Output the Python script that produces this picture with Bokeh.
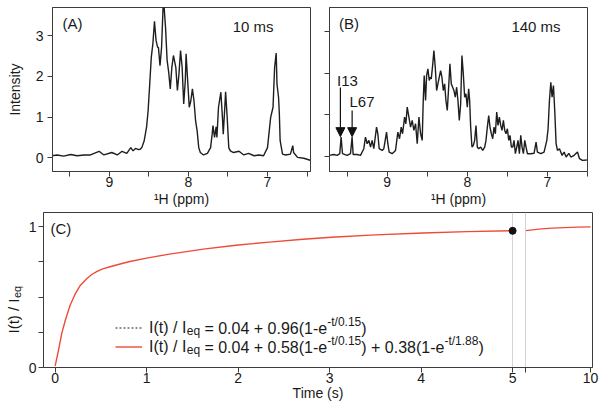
import math
import numpy as np
from bokeh.plotting import figure
from bokeh.layouts import row, column
from bokeh.models import (Range1d, FixedTicker, Label, Arrow, NormalHead, Legend, LegendItem,
                          CustomJSTickFormatter)
from bokeh.embed import file_html
from bokeh.resources import INLINE

# ---------------- data ----------------
# (A) 10 ms spectrum: 1H chemical shift (ppm) and intensity
ppm_a = [9.73, 9.66, 9.58, 9.49, 9.41, 9.32, 9.24, 9.13, 9.07, 8.97, 8.90, 8.84, 8.78, 8.73, 8.70,
         8.67, 8.63, 8.61, 8.59, 8.56, 8.53, 8.51, 8.49, 8.47, 8.45, 8.43, 8.41, 8.39, 8.38, 8.36,
         8.34, 8.32, 8.31, 8.29, 8.27, 8.25, 8.23, 8.21, 8.19, 8.16, 8.14, 8.12, 8.10, 8.08, 8.06,
         8.04, 8.03, 8.01, 7.99, 7.97, 7.95, 7.93, 7.91, 7.89, 7.87, 7.85, 7.81, 7.76, 7.72, 7.70,
         7.69, 7.67, 7.65, 7.64, 7.62, 7.59, 7.57, 7.56, 7.54, 7.53, 7.51, 7.49, 7.47, 7.43, 7.36,
         7.30, 7.24, 7.17, 7.11, 7.05, 7.00, 6.96, 6.93, 6.91, 6.89, 6.88, 6.86, 6.85, 6.84, 6.81,
         6.77, 6.71, 6.68, 6.67, 6.62, 6.54, 6.46]
int_a = [0.05, 0.07, 0.04, 0.08, 0.05, 0.07, 0.07, 0.16, 0.07, 0.13, 0.07, 0.16, 0.11, 0.25, 0.17,
         0.23, 0.20, 0.21, 0.25, 0.42, 0.75, 1.16, 1.81, 2.47, 2.80, 3.35, 2.88, 2.71, 2.71, 2.26,
         2.71, 3.75, 3.75, 3.20, 2.39, 2.10, 1.69, 2.22, 2.51, 2.22, 1.65, 2.06, 2.63, 2.22, 1.32,
         1.89, 2.55, 1.89, 1.24, 1.40, 1.69, 1.40, 0.91, 0.66, 0.25, 0.13, 0.07, 0.11, 0.25, 0.58,
         0.79, 0.50, 0.76, 0.50, 1.24, 1.61, 0.99, 0.58, 1.24, 1.62, 0.99, 0.25, 0.17, 0.13, 0.16,
         0.07, 0.11, 0.05, 0.07, 0.05, 0.25, 0.99, 1.24, 2.22, 2.57, 1.81, 1.48, 1.07, 0.42, 0.09,
         0.07, 0.09, 0.30, 0.13, 0.01, -0.01, -0.06]

# (B) 140 ms spectrum
ppm_b = [9.721, 9.667, 9.625, 9.592, 9.575, 9.558, 9.500, 9.458, 9.438, 9.425, 9.375, 9.333, 9.292,
         9.271, 9.250, 9.229, 9.208, 9.188, 9.167, 9.133, 9.117, 9.100, 9.063, 9.042, 9.008, 8.992,
         8.975, 8.938, 8.896, 8.867, 8.846, 8.825, 8.808, 8.783, 8.767, 8.750, 8.729, 8.708, 8.688,
         8.667, 8.646, 8.625, 8.604, 8.583, 8.563, 8.550, 8.538, 8.521, 8.508, 8.492, 8.475, 8.463,
         8.450, 8.433, 8.417, 8.400, 8.383, 8.367, 8.350, 8.333, 8.317, 8.300, 8.283, 8.267, 8.250,
         8.233, 8.217, 8.200, 8.183, 8.167, 8.150, 8.133, 8.117, 8.100, 8.083, 8.067, 8.050, 8.033,
         8.017, 8.000, 7.983, 7.971, 7.958, 7.942, 7.925, 7.908, 7.892, 7.875, 7.858, 7.833, 7.808,
         7.783, 7.767, 7.750, 7.733, 7.717, 7.700, 7.683, 7.667, 7.650, 7.633, 7.617, 7.600, 7.583,
         7.567, 7.550, 7.533, 7.517, 7.500, 7.483, 7.467, 7.450, 7.433, 7.417, 7.400, 7.383, 7.367,
         7.350, 7.333, 7.317, 7.300, 7.283, 7.267, 7.250, 7.208, 7.167, 7.142, 7.125, 7.083, 7.042,
         7.008, 6.992, 6.975, 6.958, 6.942, 6.925, 6.908, 6.892, 6.875, 6.850, 6.817, 6.792, 6.767,
         6.733, 6.708, 6.667, 6.625, 6.600, 6.563, 6.508]
int_b = [0.02, 0.04, 0.02, 0.06, 0.46, 0.06, 0.02, 0.06, 0.46, 0.04, 0.04, 0.02, 0.18,
         0.46, 0.30, 0.38, 0.22, 0.38, 0.18, 0.70, 0.54, 0.18, 0.14, 0.18, 0.58, 0.30,
         0.10, 0.06, 0.14, 0.58, 0.42, 0.70, 0.54, 0.94, 0.78, 1.18, 0.94, 0.70, 0.86,
         0.62, 0.78, 0.30, 0.94, 0.54, 0.38, 1.34, 1.94, 1.34, 1.94, 2.10, 1.82, 1.90,
         1.86, 2.18, 2.54, 2.14, 1.58, 1.74, 1.90, 2.06, 1.90, 1.58, 1.74, 1.34, 1.10,
         1.66, 2.22, 1.74, 1.66, 1.58, 1.42, 1.66, 1.34, 0.86, 1.26, 2.42, 1.98, 1.42,
         1.50, 1.18, 1.62, 1.34, 0.70, 0.22, 0.26, 0.38, 0.74, 0.22, 0.18, 0.22, 0.14,
         0.22, 0.38, 0.70, 0.98, 0.70, 0.54, 0.42, 0.70, 0.54, 1.06, 0.74, 0.94, 0.74,
         0.62, 0.86, 0.62, 0.54, 0.66, 0.38, 0.50, 0.22, 0.22, 0.38, 0.06, 0.22, 0.38,
         0.06, 0.50, 0.22, 0.06, 0.38, 0.22, 0.06, 0.06, 0.07, 0.34, 0.10, 0.06, 0.10,
         0.38, 0.66, 1.34, 1.78, 1.42, 1.70, 1.06, 0.30, 0.14, 0.18, 0.02, 0.10, -0.02,
         0.07, -0.02, 0.02, 0.10, -0.06, -0.10, -0.09]

# (C) build-up curve I(t)/Ieq
t_fit = [0.0, 0.036, 0.072, 0.109, 0.163, 0.218, 0.272, 0.345, 0.4, 0.454, 0.52, 0.6, 0.7,
         0.818, 1.0, 1.25, 1.62, 2.0, 2.34, 2.71, 3.02, 3.5, 4.02, 4.5, 5.0]
i_fit = [0.01, 0.12, 0.24, 0.33, 0.44, 0.52, 0.58, 0.63, 0.66, 0.68, 0.70, 0.715, 0.733,
         0.752, 0.776, 0.805, 0.84, 0.869, 0.89, 0.91, 0.924, 0.941, 0.955, 0.964, 0.971]
t_fit2 = [5.0, 6.0, 7.0, 8.0, 9.0, 10.0]
i_fit2 = [0.971, 0.982, 0.989, 0.993, 0.996, 0.998]
t_point = [5.0]
i_point = [0.97]
t_break = 5.0            # both segments of the broken time axis start / end at 5 s

ppm_ticks = [7, 8, 9]
ppm_minor = [6.5, 7.5, 8.5, 9.5]
int_ticks = [0, 1, 2, 3]
time_ticks = [0, 1, 2, 3, 4, 5]
time_ticks2 = [10]
ratio_ticks = [0, 1]
ratio_minor = [0.25, 0.5, 0.75]

# ---------------- style ----------------
FONT = "Liberation Sans"
AX = "#3c3c3c"
TXT = "#1a1a1a"
RED = "#ef4a38"


def style_axis(ax, ticks, minor=(), label_standoff=1, title_standoff=0):
    ax.ticker = FixedTicker(ticks=list(ticks), minor_ticks=list(minor))
    ax.major_tick_out = 5
    ax.major_tick_in = 0
    ax.minor_tick_out = 5
    ax.minor_tick_in = 0
    ax.axis_line_color = AX
    ax.major_tick_line_color = AX
    ax.minor_tick_line_color = AX
    ax.major_label_text_font = FONT
    ax.major_label_text_font_size = "14px"
    ax.major_label_text_color = TXT
    ax.major_label_standoff = label_standoff
    ax.axis_label_text_font = FONT
    ax.axis_label_text_font_size = "14px"
    ax.axis_label_text_font_style = "normal"
    ax.axis_label_text_color = TXT
    ax.axis_label_standoff = title_standoff


def base_fig(**kw):
    f = figure(output_backend="svg", toolbar_location=None, **kw)
    f.grid.visible = False
    f.background_fill_color = "white"
    f.border_fill_color = "white"
    return f


def lab(f, x, y, text, size="15px", **kw):
    f.add_layout(Label(x=x, y=y, text=text, text_font=FONT, text_font_size=size,
                       text_color=TXT, **kw))


# ---------------- panel A ----------------
fA = base_fig(width=318, height=209, x_range=Range1d(9.72, 6.456), y_range=Range1d(-0.336, 3.687),
              min_border_left=52, min_border_right=8, min_border_top=7, min_border_bottom=38)
fA.outline_line_color = AX
fA.line(ppm_a, int_a, line_color="#1e1e1e", line_width=1.4)
fA.xaxis.axis_label = "¹H (ppm)"
fA.yaxis.axis_label = "Intensity"
style_axis(fA.xaxis[0], ppm_ticks, ppm_minor, label_standoff=0, title_standoff=1)
style_axis(fA.yaxis[0], int_ticks, label_standoff=4, title_standoff=10)
lab(fA, 9.595, 3.29, "(A)", text_baseline="middle")
lab(fA, 7.44, 3.22, "10 ms", text_baseline="middle")

# ---------------- panel B ----------------
fB = base_fig(width=274, height=209, x_range=Range1d(9.72, 6.50), y_range=Range1d(-0.368, 3.577),
              min_border_left=11, min_border_right=5, min_border_top=7, min_border_bottom=38)
fB.outline_line_color = AX
fB.line(ppm_b, int_b, line_color="#1e1e1e", line_width=1.4)
fB.xaxis.axis_label = "¹H (ppm)"
style_axis(fB.xaxis[0], ppm_ticks, ppm_minor, label_standoff=0, title_standoff=1)
style_axis(fB.yaxis[0], [], int_ticks, label_standoff=0)   # unlabeled ticks only
lab(fB, 9.60, 3.19, "(B)", text_baseline="middle")
lab(fB, 7.45, 3.12, "140 ms", text_baseline="middle")
lab(fB, 9.625, 1.82, "I13", text_baseline="middle")
lab(fB, 9.47, 1.32, "L67", text_baseline="middle")
for xa, ys in ((9.584, 1.65), (9.4375, 1.10)):
    fB.add_layout(Arrow(end=NormalHead(size=9, fill_color="#111", line_color="#111"),
                        x_start=xa, y_start=ys, x_end=xa, y_end=0.47,
                        line_color="#111", line_width=1.2))

# ---------------- panel C (one frame, broken time axis) ----------------
yr = Range1d(0, 1.1)
x1 = Range1d(-0.127, 5.873)     # 0 .. 5 s segment (fills frame up to the break)
x2 = Range1d(-32.31, 10.154)    # 5 .. 10 s segment, drawn right of the break
fC = base_fig(width=575, height=194, x_range=x1, y_range=yr,
              min_border_left=15, min_border_right=8, min_border_top=3, min_border_bottom=36)
fC.extra_x_ranges = {"seg2": x2}
fC.outline_line_color = AX


def seg2_to_main(v):
    frac = (v - x2.start) / (x2.end - x2.start)
    return x1.start + frac * (x1.end - x1.start)


ax = fC.xaxis[0]
style_axis(ax, time_ticks + [seg2_to_main(v) for v in time_ticks2], [seg2_to_main(t_break)],
           label_standoff=0, title_standoff=-1)
ax.formatter = CustomJSTickFormatter(args=dict(cut=t_break + 0.3, lab2=str(time_ticks2[0])),
                                     code="return tick > cut ? lab2 : tick.toFixed(0);")
ax.axis_label = "Time (s)"
style_axis(fC.yaxis[0], ratio_ticks, ratio_minor, label_standoff=2)

fC.vspan(x=[t_break], line_color="#d4d4d4", line_width=1)
fC.vspan(x=[t_break], x_range_name="seg2", line_color="#d4d4d4", line_width=1)

dotted = fC.line(x=np.array([np.nan]), y=np.array([np.nan]), line_color="#222222",
                 line_dash="2 2", line_width=1.2)
red = fC.line(t_fit, i_fit, line_color=RED, line_width=1.4)
fC.line(t_fit2, i_fit2, x_range_name="seg2", line_color=RED, line_width=1.4)
fC.scatter(t_point, i_point, size=7, color="#111111")

leg = Legend(items=[LegendItem(label="I(t) / I", renderers=[dotted]),
                    LegendItem(label="I(t) / I", renderers=[red])],
             location=(72, 11), orientation="vertical", glyph_width=27, glyph_height=19,
             label_height=19, label_standoff=7, spacing=0, padding=0, margin=0,
             border_line_color=None, background_fill_alpha=0,
             label_text_font=FONT, label_text_font_size="16px", label_text_color=TXT,
             label_text_baseline="middle")
fC.add_layout(leg)

lab(fC, -0.05, 0.99, "(C)", text_baseline="middle")

# rest of the legend formulas (subscript, main text, superscripts), middle baselines
MAIN, SMALL = "16px", "12px"
rows = [
    (39.5, [("eq", 131.6, -3, SMALL), ("= 0.04 + 0.96(1-e", 149.3, 0, MAIN),
            ("-t/0.15", 272.1, 6, SMALL), (")", 306.1, 0, MAIN)]),
    (20.5, [("eq", 131.6, -3, SMALL), ("= 0.04 + 0.58(1-e", 149.3, 0, MAIN),
            ("-t/0.15", 272.1, 6, SMALL), (") + 0.38(1-e", 306.1, 0, MAIN),
            ("-t/1.88", 389.3, 6, SMALL), (")", 423.3, 0, MAIN)]),
]
for base, parts in rows:
    for txt, dx, dy, fs in parts:
        fC.add_layout(Label(x=0, y=0, x_offset=dx, y_offset=base + dy, text=txt,
                            text_font=FONT, text_font_size=fs, text_color=TXT,
                            text_align="left", text_baseline="middle"))

# y title of panel C  I(t) / I_eq  (own narrow strip so the text lies inside a frame)
fY = base_fig(width=25, height=194, x_range=Range1d(0, 25), y_range=yr,
              x_axis_location=None, y_axis_location=None,
              min_border_left=0, min_border_right=0, min_border_top=3, min_border_bottom=36)
fY.outline_line_color = None
fY.add_layout(Label(x=0, y=0, x_offset=13, y_offset=51.5, text="I(t) / I", angle=math.pi / 2,
                    text_font=FONT, text_font_size="15px", text_color=TXT,
                    text_align="center", text_baseline="middle"))
fY.add_layout(Label(x=0, y=0, x_offset=16, y_offset=69.5, text="eq", angle=math.pi / 2,
                    text_font=FONT, text_font_size="11px", text_color=TXT,
                    text_align="left", text_baseline="middle"))

layout = column(row(fA, fB), row(fY, fC))
open("out.html", "w").write(file_html(layout, INLINE))
